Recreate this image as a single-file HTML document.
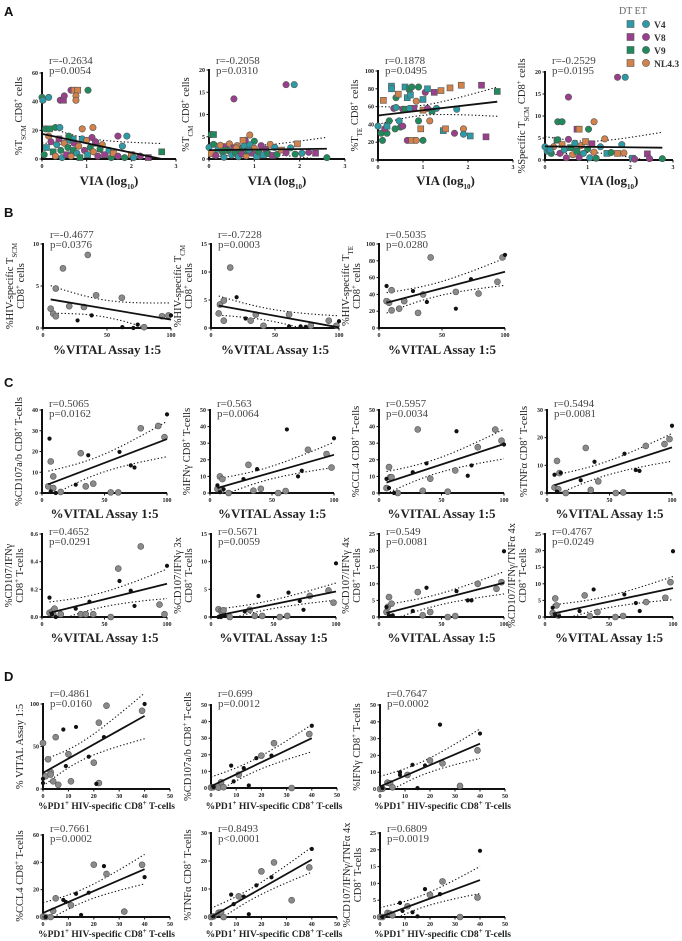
<!DOCTYPE html>
<html><head><meta charset="utf-8">
<style>
html,body{margin:0;padding:0;background:#fff;}
svg{display:block;font-family:"Liberation Serif",serif;}
.tick{font-size:6px;font-weight:bold;fill:#222;}
.stat{font-size:11px;fill:#444;}
.yl{font-size:10.5px;fill:#222;}
.xl{font-weight:bold;fill:#222;}
</style></head>
<body>
<svg id="fig" width="682" height="941" viewBox="0 0 682 941" xmlns="http://www.w3.org/2000/svg">
<g font-family="Liberation Sans, sans-serif" font-weight="bold" font-size="13" fill="#111">
<text x="4" y="16">A</text>
<text x="4" y="217">B</text>
<text x="4" y="387">C</text>
<text x="4" y="681">D</text>
</g>
<g id="legend"></g>
<g id="plots"></g>
</svg>
<script>
// ---------- data ----------
const palette = ['#2c9ba6','#9a3f8c','#1f8a5c','#d2824a'];
const legendLabels = ['V4','V8','V9','NL4.3'];
const xTicksLog = [0,1,2,3];
const xTicksVital = [0,50,100];
const xTicksPd1 = [0,10,20,30,40,50];

// Panel A: [x, y, shape(0 circle,1 square), colour index]
const a1Pts = [[0,43,0,2],[0.02,41,0,0],[0.15,43,0,0],[0.08,21,0,2],[0.17,21,1,2],[0.3,22,0,2],[0.4,22,0,0],[0.41,41,0,1],[0.48,41,1,1],[0.5,44,0,1],[0.65,48,0,1],[0.72,48,1,3],[0.8,48,1,3],[0.76,44,0,3],[0.76,41,0,3],[1.03,48,0,2],[0.9,21,0,3],[1.14,22,0,3],[1.7,16,0,1],[1.9,16,0,0],[2.68,5,1,2],[0.05,3,0,2],[0.1,8,1,0],[0.15,16,0,3],[0.2,12,0,1],[0.25,5,1,2],[0.3,2,0,3],[0.33,10,0,0],[0.38,14,1,1],[0.42,6,0,2],[0.45,1,0,0],[0.5,11,0,3],[0.55,3,1,1],[0.58,8,0,2],[0.62,13,0,0],[0.65,2,0,3],[0.7,6,1,2],[0.72,11,0,1],[0.78,4,0,0],[0.82,9,0,3],[0.85,1,1,2],[0.9,14,0,0],[0.95,6,0,1],[1.0,13,0,3],[1.02,3,1,0],[1.08,8,0,2],[1.12,15,0,1],[1.15,5,0,3],[1.2,11,1,0],[1.25,2,0,1],[1.3,7,0,2],[1.35,10,0,3],[1.4,3,1,1],[1.5,6,0,0],[1.55,1,0,2],[1.6,4,1,3],[1.7,2,0,1],[1.8,9,0,0],[1.85,1,0,2],[2.0,3,1,3],[2.05,1,0,0],[2.2,2,0,1],[2.38,1,1,1],[0.7,14,1,0],[0.6,16,0,2],[1.2,12,0,1]];
const a1Fit = [17.5, 0];
const a2Pts = [[0.05,5.5,0,2],[0.1,5.5,1,2],[0.55,13.5,0,1],[1.7,16.7,0,1],[1.88,16.7,0,0],[2.6,0.3,0,2],[0.9,5.4,0,3],[0.8,4.2,0,1],[0.75,4.2,1,3],[1.0,4,0,2],[0,2.6,0,0],[0.05,1.2,1,3],[0.1,3.3,0,2],[0.15,0.8,0,1],[0.2,2.2,1,0],[0.25,3.1,0,3],[0.3,1.5,0,2],[0.33,0.4,0,0],[0.38,2.8,1,1],[0.42,1.9,0,2],[0.45,3.4,0,3],[0.5,0.9,0,0],[0.55,2.5,1,1],[0.58,1.4,0,2],[0.62,3.0,0,3],[0.65,0.5,0,0],[0.7,2.1,1,2],[0.72,1.1,0,1],[0.78,2.9,0,0],[0.82,0.7,0,3],[0.85,1.8,1,2],[0.9,3.2,0,0],[0.95,1.3,0,1],[1.0,2.4,0,3],[1.05,0.6,1,0],[1.1,1.6,0,2],[1.15,3.0,0,1],[1.2,0.9,1,0],[1.25,2.2,0,1],[1.3,1.2,0,2],[1.35,3.3,0,3],[1.4,0.8,1,1],[1.45,2.6,0,0],[1.5,1.0,0,2],[1.6,2.0,1,3],[1.7,1.4,0,1],[1.8,2.5,0,0],[1.9,1.1,0,2],[1.95,3.4,1,3],[2.05,1.3,0,0],[2.2,1.5,0,1],[2.35,1.3,1,1],[0.35,2.0,0,2],[0.6,2.5,0,3],[0.88,2.0,0,0]];
const a2Fit = [2.0, 2.3];
const a3Pts = [[0,38,0,0],[0.07,30,0,2],[0.1,22,0,2],[0.12,67,1,3],[0.2,30,0,2],[0.3,83,1,0],[0.3,80,1,0],[0.35,58,0,1],[0.4,70,0,2],[0.45,74,1,3],[0.47,44,0,0],[0.5,37,0,2],[0.55,57,0,1],[0.6,82,1,0],[0.65,70,1,0],[0.7,80,1,2],[0.72,73,1,0],[0.75,82,0,2],[0.8,58,1,1],[0.85,66,0,3],[0.9,44,0,2],[0.95,35,1,3],[1.0,22,0,2],[1.0,68,1,0],[1.05,76,0,1],[1.1,80,1,0],[1.15,44,0,3],[1.2,55,1,2],[1.25,76,1,1],[1.3,58,0,0],[1.4,78,1,3],[1.45,33,1,0],[1.5,35,1,3],[1.6,81,1,3],[1.7,30,0,1],[1.75,57,0,0],[1.85,84,1,3],[1.9,35,0,3],[1.9,29,0,0],[2.05,27,1,0],[2.3,84,1,1],[2.4,26,1,1],[2.65,77,1,2],[0.55,38,0,1],[0.65,22,0,1],[0.75,22,1,3],[0.85,22,0,3],[0.25,44,0,2],[0.38,35,0,2],[0.4,59,0,0],[0.6,57,0,2],[0.7,58,0,0],[0.9,82,0,2],[1.0,56,1,3],[1.1,58,0,1],[0.15,35,0,1],[0.2,38,1,0]];
const a3Fit = [50, 65.5];
const a4Pts = [[0.55,14.3,0,1],[1.7,18.8,0,1],[1.88,18.8,0,0],[0.3,8.7,0,2],[0.4,8.7,0,2],[1.02,7,0,2],[0.75,7,1,1],[0.8,7,1,3],[1.15,8.7,0,3],[0.05,2,0,0],[0.1,2.5,1,0],[0.15,1.5,0,2],[0.2,3,0,3],[0.28,4.5,1,2],[0.3,4.6,0,2],[0.35,1.5,0,1],[0.4,3.5,1,3],[0.45,2.3,0,0],[0.5,0.5,0,1],[0.55,4.7,0,1],[0.6,2.8,1,2],[0.65,1.2,0,3],[0.7,3.8,0,0],[0.75,2.0,1,2],[0.8,0.6,0,1],[0.85,3.3,0,3],[0.9,1.5,0,0],[0.95,4.2,1,3],[1.0,2.5,0,2],[1.05,0.5,0,0],[1.1,3.7,1,1],[1.15,1.8,0,3],[1.2,0.4,0,2],[1.3,3.0,0,0],[1.4,4.8,0,3],[1.45,1.5,1,0],[1.55,1.7,0,2],[1.7,1.5,1,3],[1.8,3.5,0,0],[1.85,1.6,0,3],[2.05,0.4,1,0],[2.1,0.2,0,1],[2.4,1.4,1,1],[2.45,0.3,0,1],[2.75,0.3,0,2],[0,3,0,0],[0.12,2.3,1,0]];
const a4Fit = [3.1, 2.8];

// Panels B-D: [x, y, kind(0 grey,1 black)]
const b1Pts = [[6,2.3,0],[8,1.7,0],[10,4.7,0],[10,1.4,0],[15.6,7.1,0],[20.5,2.6,0],[32,2.5,0],[35,8.7,0],[41.5,3.9,0],[61.6,3.6,0],[79,0.1,0],[93,1.4,0],[98,1.5,0],[27,0.9,1],[38,1.5,1],[62,0.1,1],[74,0.4,1],[100,1.5,1],[70.6,0,1]];
const b1Fit = [3.4, 1.0];
const b2Pts = [[6,2.6,0],[7,4.2,0],[10,1.3,0],[10,4.9,0],[15,10.8,0],[31,1.3,0],[35,2.4,0],[41,0.4,0],[61,2.4,0],[78,0.4,0],[92,1.3,0],[98,0.4,0],[20,5.5,1],[27,1.7,1],[61,0.3,1],[70,0.3,1],[74,0.2,1],[100,1.2,1]];
const b2Fit = [4.0, 0.1];
const b3Pts = [[6,32,0],[8,30,0],[10,45,0],[10,21,0],[16,23,0],[20,32,0],[31,18,0],[35,40,0],[41,84,0],[61,43,0],[79,41,0],[94,55,0],[98,84,0],[6,50,1],[27,44,1],[38,31,1],[61,23,1],[73,58,1],[100,87,1]];
const b3Fit = [30, 67];

const c1Pts = [[5,3.2,0],[7,15.2,0],[9,8,0],[9,2.4,0],[15,0.5,0],[31,19.2,0],[35,3.2,0],[41,4.5,0],[55,0.3,0],[61,0.3,0],[79,31.2,0],[93,32.3,0],[98,26.9,0],[6,26.2,1],[7,0.8,1],[11,0,1],[27,4,1],[37,18.2,1],[62,19.8,1],[71,13.3,1],[74,12.3,1],[100,37.9,1]];
const c1Fit = [4.2, 26];
const c2Pts = [[6,2.4,0],[8,10,0],[9,1.5,0],[10,8.4,0],[15,0,0],[31,17,0],[35,1.4,0],[41,2.5,0],[55,0,0],[61,1.2,0],[79,26,0],[94,23.5,0],[98,15.3,0],[6,4.6,1],[8,0.5,1],[11,2.3,1],[27,8.4,1],[38,14.4,1],[62,38.3,1],[71,10,1],[74,13.4,1],[100,33,1]];
const c2Fit = [3, 23];
const c3Pts = [[6,3,0],[8,15.6,0],[9,9.5,0],[10,9.5,0],[15,0,0],[31,38.3,0],[35,1.3,0],[41,8.6,0],[55,0.8,0],[61,13.6,0],[79,27.6,0],[93,38.2,0],[98,31.5,0],[6,8.5,1],[8,3,1],[12,0,1],[27,12.5,1],[38,17.8,1],[62,37.2,1],[71,10.4,1],[74,16.6,1],[100,29.2,1]];
const c3Fit = [6.3, 29.5];
const c4Pts = [[6,2,0],[8,11.6,0],[9,1.4,0],[10,7.2,0],[15,0,0],[31,16.3,0],[35,1.1,0],[41,4.2,0],[55,0,0],[61,0.2,0],[79,17,0],[94,17.7,0],[98,19.5,0],[6,6.6,1],[8,0.5,1],[11,7.3,1],[27,4.6,1],[38,11.3,1],[62,14.2,1],[71,8.3,1],[74,8,1],[100,24.3,1]];
const c4Fit = [2.8, 16.5];
const c5Pts = [[6,0.03,0],[8,0.04,0],[9,0.02,0],[10,0.06,0],[15,0.02,0],[31,0.02,0],[35,0.02,0],[41,0.02,0],[55,0,0],[61,0.35,0],[79,0.51,0],[94,0.09,0],[98,0.02,0],[6,0.14,1],[8,0.02,1],[11,0,1],[27,0.06,1],[38,0.11,1],[62,0.26,1],[71,0.19,1],[74,0.08,1],[100,0.37,1]];
const c5Fit = [0.03, 0.24];
const c6Pts = [[6,1.4,0],[8,1.1,0],[9,0.9,0],[10,1.2,0],[15,0,0],[31,1.3,0],[35,0.2,0],[41,0.2,0],[55,0,0],[61,0.2,0],[79,3.8,0],[94,4.8,0],[98,2.6,0],[6,0,1],[8,0,1],[11,0.2,1],[27,1,1],[38,3.8,1],[62,4.4,1],[71,2.9,1],[74,1.3,1],[100,9.7,1]];
const c6Fit = [0.3, 4.6];
const c7Pts = [[6,1.5,0],[7,3,0],[8,6,0],[10,4,0],[31,7.5,0],[35,0.5,0],[41,1.5,0],[55,0,0],[61,0.3,0],[79,10,0],[94,8.5,0],[98,10.5,0],[6,3,1],[8,0.5,1],[11,0.5,1],[27,1.8,1],[38,8.8,1],[62,7.8,1],[71,5,1],[74,5,1],[100,19.8,1]];
const c7Fit = [1.2, 10.3];
const c8Pts = [[6,1.2,0],[8,5.6,0],[9,3.5,0],[10,0.5,0],[31,6.5,0],[35,0.3,0],[41,1.5,0],[55,0,0],[61,0.3,0],[79,4.5,0],[94,5.8,0],[98,10.5,0],[6,2.8,1],[8,0.5,1],[11,0.2,1],[27,1.8,1],[38,8.3,1],[62,6.8,1],[71,4.2,1],[74,1.8,1],[100,19.8,1]];
const c8Fit = [1.0, 8.7];

const d1Pts = [[0,54,0],[1,15,0],[2,35,0],[3,20,0],[3,17,0],[4,9,0],[5,61,0],[6,5,0],[10,41,0],[11,9,0],[20,31,0],[22,78,0],[22,7,0],[25,98,0],[39,92,0],[0,12,1],[0,7,1],[8,70,1],[9,27,1],[13,73,1],[18,38,1],[21,6,1],[24,61,1],[40,100,1]];
const d1Fit = [19, 86];
const d2Pts = [[0,0.3,0],[1,0.5,0],[3,0.2,0],[4,3.5,0],[5,0.5,0],[11,8,0],[20,19.5,0],[25,27,0],[32,0,0],[39,32.5,0],[1,0.5,1],[8,13.5,1],[9,4,1],[13,12,1],[15,1.5,1],[18,18,1],[24,19.5,1],[40,37.5,1]];
const d2Fit = [1, 30];
const d3Pts = [[0,0,0],[1,0.2,0],[3,3.8,0],[4,3.5,0],[5,1,0],[11,8.4,0],[20,17,0],[25,15.3,0],[32,1.8,0],[39,23,0],[1,0.5,1],[8,10,1],[8,8.4,1],[13,14.4,1],[15,0.5,1],[18,14,1],[24,38.3,1],[40,33,1]];
const d3Fit = [1.5, 27];
const d4Pts = [[0,0.3,0],[1,0,0],[3,0,0],[4,4.5,0],[5,13.7,0],[11,8.6,0],[20,38.3,0],[25,31.5,0],[32,4,0],[39,38.2,0],[1,0,1],[8,12.5,1],[9,11,1],[13,17,1],[15,1.5,1],[18,17.8,1],[24,37.2,1],[40,29.2,1]];
const d4Fit = [3, 35];
const d5Pts = [[0,0,0],[1,0.2,0],[3,1.5,0],[4,1.7,0],[5,0,0],[11,7.4,0],[20,16.3,0],[25,19.5,0],[32,6,0],[39,17.7,0],[1,0.2,1],[8,8,1],[9,4.6,1],[13,7.3,1],[15,1,1],[18,11.3,1],[24,14.2,1],[40,24.3,1]];
const d5Fit = [0, 20.5];
const d6Pts = [[0,0,0],[1,0,0],[3,1.2,0],[4,1,0],[5,0.5,0],[11,3.2,0],[20,6.6,0],[25,10.6,0],[32,0,0],[39,5.8,0],[1,0,1],[8,4.2,1],[9,1.8,1],[13,1.4,1],[15,0.2,1],[18,8.3,1],[24,6.8,1],[40,19.7,1]];
const d6Fit = [0, 11];

const statsR = ['r=-0.2634','r=-0.2058','r=0.1878','r=-0.2529','r=-0.4677','r=-0.7228','r=0.5035','r=0.5065','r=0.563','r=0.5957','r=0.5494','r=0.4652','r=0.5671','r=0.549','r=0.4767','r=0.4861','r=0.699','r=0.7647','r=0.7661','r=0.8493','r=0.6809'];
const statsP = ['p=0.0054','p=0.0310','p=0.0495','p=0.0195','p=0.0376','p=0.0003','p=0.0280','p=0.0162','p=0.0064','p=0.0034','p=0.0081','p=0.0291','p=0.0059','p=0.0081','p=0.0249','p=0.0160','p=0.0012','p=0.0002','p=0.0002','p<0.0001','p=0.0019'];

// ---------- layout ----------
const SUB = s => `<tspan baseline-shift="sub" font-size="7">${s}</tspan>`;
const SUP = s => `<tspan baseline-shift="super" font-size="7">${s}</tspan>`;
const CD8 = 'CD8'+SUP('+');
const VIA = 'VIA (log'+SUB('10')+')';
const VIT = '%VITAL Assay 1:5';
const PD1 = '%PD1'+SUP('+')+' HIV-specific CD8'+SUP('+')+' T-cells';
const panels = [
 {id:'a1',pts:a1Pts,fit:a1Fit,col:true,fromZero:true,x0:42,x1:176,y0:159,y1:73,xmax:3,ymax:60,xt:xTicksLog,yt:[0,20,40,60],yl:['%T'+SUB('SCM')+' '+CD8+' cells'],xl:VIA,xs:13,xy:185,ry:60},
 {id:'a2',pts:a2Pts,fit:a2Fit,col:true,fromZero:true,x0:209,x1:345,y0:159,y1:70,xmax:3,ymax:20,xt:xTicksLog,yt:[0,5,10,15,20],yl:['%T'+SUB('CM')+' '+CD8+' cells'],xl:VIA,xs:13,xy:185,ry:60},
 {id:'a3',pts:a3Pts,fit:a3Fit,col:true,fromZero:true,x0:378,x1:513,y0:160,y1:71,xmax:3,ymax:100,xt:xTicksLog,yt:[0,20,40,60,80,100],yl:['%T'+SUB('TE')+' '+CD8+' cells'],xl:VIA,xs:13,xy:185,ry:60},
 {id:'a4',pts:a4Pts,fit:a4Fit,col:true,fromZero:true,x0:545,x1:673,y0:160,y1:72,xmax:3,ymax:20,xt:xTicksLog,yt:[0,5,10,15,20],yl:['%Specific T'+SUB('SCM')+' '+CD8+' cells'],xl:VIA,xs:13,xy:185,ry:60},
 {id:'b1',pts:b1Pts,fit:b1Fit,x0:43,x1:171,y0:328,y1:244,xmax:100,ymax:10,xt:xTicksVital,yt:[0,5,10],yl:['%HIV-specific T'+SUB('SCM'),CD8+' cells'],xl:VIT,xs:13,xy:354,ry:234},
 {id:'b2',pts:b2Pts,fit:b2Fit,x0:211,x1:339,y0:328,y1:244,xmax:100,ymax:15,xt:xTicksVital,yt:[0,5,10,15],yl:['%HIV-specific T'+SUB('CM'),CD8+' cells'],xl:VIT,xs:13,xy:354,ry:234},
 {id:'b3',pts:b3Pts,fit:b3Fit,x0:379,x1:505,y0:328,y1:244,xmax:100,ymax:100,xt:xTicksVital,yt:[0,20,40,60,80,100],yl:['%HIV-specific T'+SUB('TE'),CD8+' cells'],xl:VIT,xs:13,xy:354,ry:234},
 {id:'c1',pts:c1Pts,fit:c1Fit,x0:42,x1:167,y0:493,y1:410,xmax:100,ymax:40,xt:xTicksVital,yt:[0,10,20,30,40],yl:['%CD107a/b '+CD8+' T-cells'],xl:VIT,xs:13,xy:518,ry:403},
 {id:'c2',pts:c2Pts,fit:c2Fit,x0:210,x1:334,y0:493,y1:410,xmax:100,ymax:50,xt:xTicksVital,yt:[0,10,20,30,40,50],yl:['%IFNγ '+CD8+' T-cells'],xl:VIT,xs:13,xy:518,ry:403},
 {id:'c3',pts:c3Pts,fit:c3Fit,x0:379,x1:504,y0:493,y1:410,xmax:100,ymax:50,xt:xTicksVital,yt:[0,10,20,30,40,50],yl:['%CCL4 '+CD8+' T-cells'],xl:VIT,xs:13,xy:518,ry:403},
 {id:'c4',pts:c4Pts,fit:c4Fit,x0:547,x1:672,y0:493,y1:410,xmax:100,ymax:30,xt:xTicksVital,yt:[0,10,20,30],yl:['%TNFα '+CD8+' T-cells'],xl:VIT,xs:13,xy:518,ry:403},
 {id:'c5',pts:c5Pts,fit:c5Fit,x0:42,x1:167,y0:617,y1:534,xmax:100,ymax:0.6,xt:xTicksVital,yt:[0,0.2,0.4,0.6],dec:1,yl:['%CD107/IFNγ',CD8+' T-cells'],xl:VIT,xs:13,xy:642,ry:531},
 {id:'c6',pts:c6Pts,fit:c6Fit,x0:211,x1:336,y0:617,y1:534,xmax:100,ymax:15,xt:xTicksVital,yt:[0,5,10,15],yl:['%CD107/IFNγ 3x',CD8+' T-cells'],xl:VIT,xs:13,xy:642,ry:531},
 {id:'c7',pts:c7Pts,fit:c7Fit,x0:379,x1:504,y0:617,y1:534,xmax:100,ymax:25,xt:xTicksVital,yt:[0,5,10,15,20,25],yl:['%CD107/IFNγ 4x',CD8+' T-cells'],xl:VIT,xs:13,xy:642,ry:531},
 {id:'c8',pts:c8Pts,fit:c8Fit,x0:545,x1:673,y0:617,y1:534,xmax:100,ymax:25,xt:xTicksVital,yt:[0,5,10,15,20,25],yl:['%CD107/IFNγ/TNFα 4x',CD8+' T-cells'],xl:VIT,xs:13,xy:642,ry:531},
 {id:'d1',pts:d1Pts,fit:d1Fit,x0:43,x1:170,y0:789,y1:704,xmax:50,ymax:100,xt:xTicksPd1,yt:[0,50,100],yl:['% VITAL Assay 1:5'],xl:PD1,xs:9.5,xy:809,ry:693},
 {id:'d2',pts:d2Pts,fit:d2Fit,x0:211,x1:337,y0:788,y1:705,xmax:50,ymax:50,xt:xTicksPd1,yt:[0,10,20,30,40,50],yl:['%CD107a/b '+CD8+' T-cells'],xl:PD1,xs:9.5,xy:809,ry:693},
 {id:'d3',pts:d3Pts,fit:d3Fit,x0:380,x1:505,y0:789,y1:705,xmax:50,ymax:50,xt:xTicksPd1,yt:[0,10,20,30,40,50],yl:['%IFNγ '+CD8+' T-cells'],xl:PD1,xs:9.5,xy:809,ry:693},
 {id:'d4',pts:d4Pts,fit:d4Fit,x0:43,x1:170,y0:917,y1:835,xmax:50,ymax:60,xt:xTicksPd1,yt:[0,20,40,60],yl:['%CCL4 '+CD8+' T-cells'],xl:PD1,xs:9.5,xy:937,ry:828},
 {id:'d5',pts:d5Pts,fit:d5Fit,x0:211,x1:337,y0:917,y1:833,xmax:50,ymax:30,xt:xTicksPd1,yt:[0,10,20,30],yl:['%TNFα '+CD8+' T-cells'],xl:PD1,xs:9.5,xy:937,ry:828},
 {id:'d6',pts:d6Pts,fit:d6Fit,x0:380,x1:505,y0:917,y1:833,xmax:50,ymax:25,xt:xTicksPd1,yt:[0,5,10,15,20,25],yl:['%CD107/IFNγ/TNFα 4x',CD8+' T-cells'],xl:PD1,xs:9.5,xy:937,ry:828}
];

const NS='http://www.w3.org/2000/svg';
function mk(tag, attrs, parent){const e=document.createElementNS(NS,tag);for(const k in attrs)e.setAttribute(k,attrs[k]);if(parent)parent.appendChild(e);return e;}
const root=document.getElementById('plots');

panels.forEach((P,idx)=>{
  const sx=v=>P.x0+(v/P.xmax)*(P.x1-P.x0);
  const sy=v=>P.y0-(v/P.ymax)*(P.y0-P.y1);
  const g=mk('g',{},root);
  
  
  const ax=mk('path',{d:`M${P.x0},${P.y1-1}V${P.y0}H${P.x1}`,fill:'none',stroke:'#111','stroke-width':2},g);
  
  
  P.xt.forEach(t=>{
    mk('line',{x1:sx(t),x2:sx(t),y1:P.y0,y2:P.y0+2.5,stroke:'#111','stroke-width':1},g);
    const tx=mk('text',{x:sx(t),y:P.y0+9,'text-anchor':'middle',class:'tick'},g);
    tx.textContent=t;
    
    
  });
  P.yt.forEach(t=>{
    mk('line',{x1:P.x0-2.5,x2:P.x0,y1:sy(t),y2:sy(t),stroke:'#111','stroke-width':1},g);
    const tx=mk('text',{x:P.x0-4,y:sy(t)+2,'text-anchor':'end',class:'tick'},g);
    tx.textContent=P.dec?t.toFixed(P.dec):t;
    
    
  });
  const xs=P.pts.map(p=>p[0]);
  const xa=P.fromZero?0:Math.min(...xs), xb=Math.max(...xs);
  const fy=x=>P.fit[0]+(P.fit[1]-P.fit[0])*(x-xa)/(xb-xa||1);
  const n=P.pts.length, xm=xs.reduce((a,b)=>a+b,0)/n;
  const sxx=xs.reduce((a,b)=>a+(b-xm)*(b-xm),0)||1;
  const s=Math.sqrt(P.pts.reduce((a,p)=>a+Math.pow(p[1]-fy(p[0]),2),0)/Math.max(n-2,1));
  const band=x=>2.0*s*Math.sqrt(1/n+(x-xm)*(x-xm)/sxx);
  let up='',lo='';
  for(let i=0;i<=30;i++){const x=xa+(xb-xa)*i/30;
    up+=(i?'L':'M')+sx(x).toFixed(1)+','+sy(Math.max(0,fy(x)+band(x))).toFixed(1);
    lo+=(i?'L':'M')+sx(x).toFixed(1)+','+sy(Math.max(0,fy(x)-band(x))).toFixed(1);}
  const cu=mk('path',{d:up,fill:'none',stroke:'#111','stroke-width':1.1,'stroke-dasharray':'1.3 2.2'},g);
  
  
  const cl=mk('path',{d:lo,fill:'none',stroke:'#111','stroke-width':1.1,'stroke-dasharray':'1.3 2.2'},g);
  
  
  P.pts.forEach(p=>{
    let el;
    if(P.col){
      const c=palette[p[3]];
      if(p[2]===1) el=mk('rect',{x:sx(p[0])-3,y:sy(p[1])-3,width:6,height:6,fill:c,stroke:'#555','stroke-width':0.6},g);
      else el=mk('circle',{cx:sx(p[0]),cy:sy(p[1]),r:3.2,fill:c,stroke:'#555','stroke-width':0.6},g);
    } else if(p[2]===1){
      el=mk('circle',{cx:sx(p[0]),cy:sy(p[1]),r:2.1,fill:'#111'},g);
    } else {
      el=mk('circle',{cx:sx(p[0]),cy:sy(p[1]),r:3,fill:'#8a8a8a',stroke:'#555','stroke-width':0.6},g);
    }
    
    
  });
  const fl=mk('line',{x1:sx(xa),y1:sy(fy(xa)),x2:sx(xb),y2:sy(fy(xb)),stroke:'#111','stroke-width':1.8},g);
  
  
  const r=mk('text',{x:P.x0+7,y:P.ry+4,class:'stat'},g);
  r.textContent=statsR[idx];
  
  
  const pp=mk('text',{x:P.x0+7,y:P.ry+14,class:'stat'},g);
  pp.textContent=statsP[idx];
  
  
  const xl=mk('text',{x:(P.x0+P.x1)/2,y:P.xy,'text-anchor':'middle',class:'xl','font-size':P.xs},g);
  xl.innerHTML=P.xl;
  
  
  const cy=(P.y0+P.y1)/2;
  const lines=P.yl;
  lines.forEach((L,i)=>{
    const xx=P.x0-(lines.length===1?20:30-i*11);
    const t=mk('text',{x:xx,y:cy,'text-anchor':'middle',class:'yl',transform:`rotate(-90 ${xx} ${cy})`},g);
    t.innerHTML=L;
    
    
  });
});

// legend
const lg=document.getElementById('legend');
const hd=mk('text',{x:619,y:14,'font-size':10,fill:'#666'},lg);
hd.textContent='DT ET';


legendLabels.forEach((lab,i)=>{
  const y=24+i*13;
  const g=mk('g',{},lg);
  
  
  mk('rect',{x:627,y:y-3.5,width:7,height:7,fill:palette[i],stroke:'#555','stroke-width':0.6},g);
  mk('circle',{cx:646,cy:y,r:3.6,fill:palette[i],stroke:'#555','stroke-width':0.6},g);
  const t=mk('text',{x:654,y:y+4,'font-size':9.5,'font-weight':'bold',fill:'#333'},g);
  t.textContent=lab;
});
</script>
</body></html>
